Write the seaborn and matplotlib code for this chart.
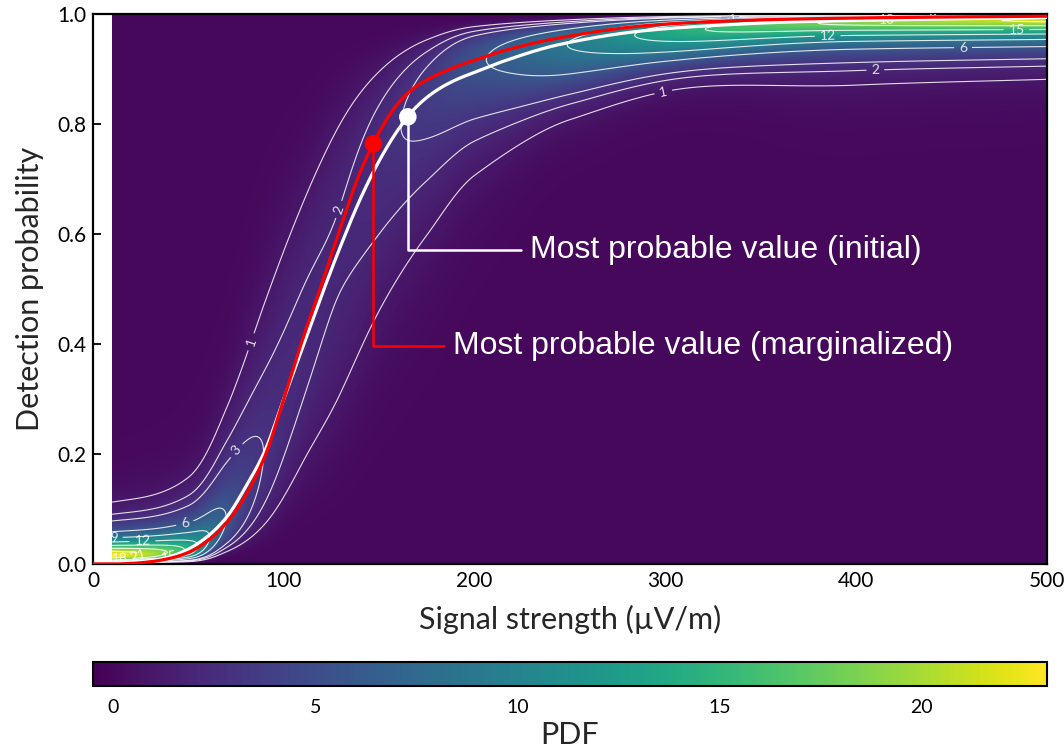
import numpy as np
import matplotlib
matplotlib.use("Agg")
import matplotlib.pyplot as plt
import seaborn as sns

# ---------------- data ----------------
curve_x = [0, 10, 20, 30, 40, 50, 60, 70, 80, 90, 100, 110, 120, 130, 140, 150,
           160, 170, 180, 190, 200, 215, 245, 290, 330, 370, 430, 500]
initial_y = [0.0, 0.0, 0.002, 0.006, 0.013, 0.027, 0.05, 0.085, 0.14, 0.205, 0.30,
             0.395, 0.49, 0.58, 0.663, 0.733, 0.79, 0.833, 0.861, 0.880, 0.894,
             0.914, 0.945, 0.970, 0.980, 0.986, 0.990, 0.994]
marginal_y = [0.0, 0.0, 0.001, 0.004, 0.010, 0.021, 0.042, 0.075, 0.125, 0.195, 0.30,
              0.41, 0.51, 0.615, 0.712, 0.785, 0.838, 0.870, 0.889, 0.904, 0.916,
              0.933, 0.957, 0.979, 0.987, 0.991, 0.994, 0.996]
mpv_initial = [165, 0.813]
mpv_marginal = [147, 0.764]

# PDF field: per signal strength column, a split-normal distribution of the
# logit of the detection probability (centre in probability units,
# spreads below / above the centre in logit units)
field_x = [10, 30, 50, 70, 90, 110, 130, 150, 175, 200, 250, 300, 400, 500]
field_center = [0.0293, 0.0339, 0.0484, 0.125, 0.2645, 0.421, 0.557, 0.682,
                0.793, 0.865, 0.906, 0.937, 0.961, 0.964]
field_spread_low = [0.8, 0.8, 0.8, 0.72, 0.75, 0.72, 0.76, 0.74, 0.75, 0.70,
                    0.50, 0.50, 0.78, 0.77]
field_spread_high = [0.8, 0.8, 0.8, 0.72, 0.75, 0.72, 0.76, 0.74, 0.75, 0.75,
                     0.80, 0.85, 1.0, 1.13]
pdf_levels = [1, 2, 3, 6, 9, 12, 15, 18, 21]
# where the contour labels sit: level -> [(signal strength, probability), ...]
label_spots = {
    1: [(86, 0.40), (299, 0.856)],
    2: [(122, 0.653), (410, 0.904)],
    3: [(75, 0.207), (334, 0.996)],
    6: [(48, 0.076), (456, 0.944)],
    9: [(11, 0.044), (440, 0.997)],
    12: [(26, 0.033), (385, 0.967)],
    15: [(40, 0.013), (484, 0.98)],
    18: [(416, 0.996), (14, 0.010)],
    21: [(24, 0.004)],
}

x_ticks = [0, 100, 200, 300, 400, 500]
y_ticks = [0.0, 0.2, 0.4, 0.6, 0.8, 1.0]
cbar_ticks = [0, 5, 10, 15, 20]
pdf_range = [-0.5, 23.1]

label_initial = "Most probable value (initial)"
label_marginal = "Most probable value (marginalized)"
x_label = "Signal strength (µV/m)"
y_label = "Detection probability"
cbar_label = "PDF"


# ---------------- helpers ----------------
def pchip(xk, yk, x):
    xk = np.asarray(xk, float)
    yk = np.asarray(yk, float)
    x = np.asarray(x, float)
    h = np.diff(xk)
    d = np.diff(yk) / h
    m = np.zeros_like(yk)
    m[0], m[-1] = d[0], d[-1]
    for k in range(1, len(xk) - 1):
        if d[k - 1] * d[k] > 0:
            w1 = 2 * h[k] + h[k - 1]
            w2 = h[k] + 2 * h[k - 1]
            m[k] = (w1 + w2) / (w1 / d[k - 1] + w2 / d[k])
    idx = np.clip(np.searchsorted(xk, x) - 1, 0, len(xk) - 2)
    t = (x - xk[idx]) / h[idx]
    h00 = 2 * t**3 - 3 * t**2 + 1
    h10 = t**3 - 2 * t**2 + t
    h01 = -2 * t**3 + 3 * t**2
    h11 = t**3 - t**2
    return (h00 * yk[idx] + h10 * h[idx] * m[idx] + h01 * yk[idx + 1]
            + h11 * h[idx] * m[idx + 1])


def logit(p):
    p = np.asarray(p, float)
    return np.log(p / (1 - p))


# ---------------- build the field ----------------
xs = np.linspace(field_x[0], field_x[-1], 491)
ys = (np.arange(800) + 0.5) / 800
mu = pchip(field_x, logit(field_center), xs)
s_lo = pchip(field_x, field_spread_low, xs)
s_hi = pchip(field_x, field_spread_high, xs)
X, Y = np.meshgrid(xs, ys)
Zl = logit(Y)
S = np.where(Zl < mu, s_lo, s_hi)
norm = 2.0 / (np.sqrt(2 * np.pi) * (s_lo + s_hi))
Z = norm * np.exp(-(Zl - mu) ** 2 / (2 * S ** 2)) / (Y * (1 - Y))

xd = np.linspace(curve_x[0], curve_x[-1], 1001)
init_d = pchip(curve_x, initial_y, xd)
marg_d = pchip(curve_x, marginal_y, xd)
init_mask = xd >= 10

# ---------------- figure ----------------
sns.set_theme(style="white")
plt.rcParams["font.family"] = ["Lato", "DejaVu Sans"]
plt.rcParams["axes.edgecolor"] = "black"

fig = plt.figure(figsize=(10.64, 7.49), dpi=100)
ax = fig.add_axes([0.0874, 0.247, 0.8966, 0.7343])
cax = fig.add_axes([0.0874, 0.0841, 0.8966, 0.032])

im = ax.imshow(Z, extent=(field_x[0], field_x[-1], 0, 1), origin="lower",
               aspect="auto", cmap="viridis", vmin=pdf_range[0], vmax=pdf_range[1],
               interpolation="bilinear", zorder=1)
for lev in pdf_levels:
    cs = ax.contour(X, Y, Z, levels=[lev], colors="white", linewidths=0.8,
                    alpha=0.85, zorder=2)
    spots = label_spots.get(lev, [])
    if spots and len(cs.allsegs[0]) > 0:
        ax.clabel(cs, fmt="%d", fontsize=10, inline=True, colors="white",
                  manual=spots)

sns.lineplot(x=xd[init_mask], y=init_d[init_mask], color="white", lw=2.3,
             ax=ax, sort=False, estimator=None, zorder=4)
sns.lineplot(x=xd, y=marg_d, color="red", lw=2.3, ax=ax, sort=False,
             estimator=None, zorder=5)

sns.scatterplot(x=[mpv_initial[0]], y=[mpv_initial[1]], color="white", s=160,
                edgecolor="none", ax=ax, zorder=7)
sns.scatterplot(x=[mpv_marginal[0]], y=[mpv_marginal[1]], color="red", s=160,
                edgecolor="none", ax=ax, zorder=7)

ax.annotate(label_initial, xy=mpv_initial, xytext=(229, 0.571), textcoords="data",
            ha="left", va="center", fontsize=23, color="white",
            family=["Liberation Sans"], zorder=6,
            arrowprops=dict(arrowstyle="-", color="white", lw=1.8, shrinkA=4,
                            shrinkB=0, relpos=(0, 0.5),
                            connectionstyle="angle,angleA=0,angleB=90,rad=0"))
ax.annotate(label_marginal, xy=mpv_marginal, xytext=(188.5, 0.396), textcoords="data",
            ha="left", va="center", fontsize=23, color="white",
            family=["Liberation Sans"], zorder=6,
            arrowprops=dict(arrowstyle="-", color="red", lw=1.8, shrinkA=4,
                            shrinkB=0, relpos=(0, 0.5),
                            connectionstyle="angle,angleA=0,angleB=90,rad=0"))

ax.set_xlim(0, 500)
ax.set_ylim(0, 1)
ax.set_xticks(x_ticks)
ax.set_yticks(y_ticks)
ax.set_yticklabels([f"{v:.1f}" for v in y_ticks])
ax.tick_params(direction="in", length=6, width=1.3, labelsize=15, colors="black",
               bottom=True, left=True, pad=5)
for s in ax.spines.values():
    s.set_linewidth(1.6)
    s.set_color("black")
ax.set_xlabel(x_label, fontsize=22, labelpad=10)
ax.set_ylabel(y_label, fontsize=22, labelpad=9)

cb = fig.colorbar(im, cax=cax, orientation="horizontal", ticks=cbar_ticks)
cb.outline.set_linewidth(1.5)
cb.outline.set_edgecolor("black")
cax.tick_params(direction="in", length=6, width=1.2, labelsize=14, bottom=True,
                colors="black", pad=9)
cb.set_label(cbar_label, fontsize=22, labelpad=4)

fig.savefig("out.png", dpi=100)
